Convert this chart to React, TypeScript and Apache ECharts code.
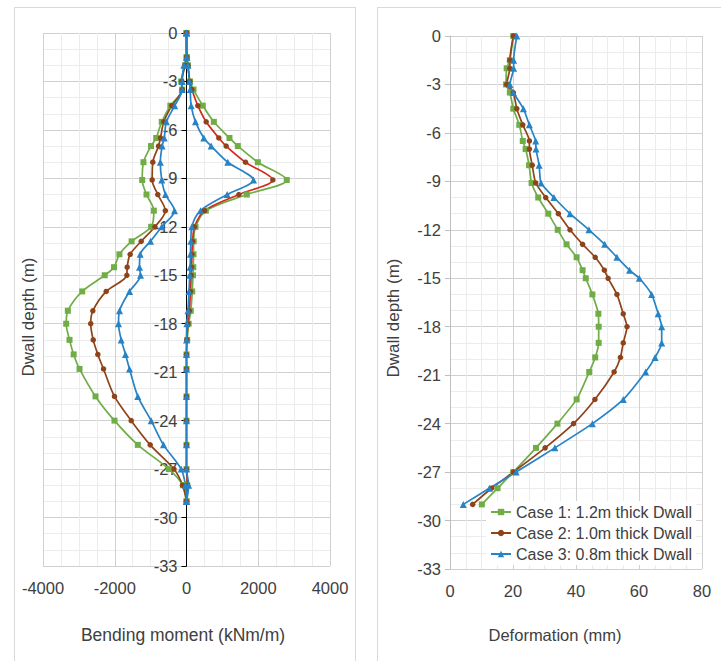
import React, { useEffect, useRef } from "react";
import * as echarts from "echarts";

// Depth (m) of each result point, shared by all series
const depth = [0, -1.5, -2, -3, -3.5, -4.5, -5.5, -6.5, -7, -8, -9.1, -10, -11, -12, -12.9, -13.7, -14.5, -15, -16, -17.2, -18, -19, -19.9, -20.8, -22.5, -24, -25.5, -27, -28, -29];

// Bending moment (kNm/m) envelopes
const case1MomentMin = [0, 0, -40, -150, -120, -450, -690, -845, -990, -1200, -1235, -1115, -910, -985, -1530, -1870, -2020, -2280, -2907, -3308, -3353, -3261, -3145, -2982, -2536, -2007, -1357, -493, -100, 0];
const case1MomentMax = [0, 10, 40, 100, 195, 455, 762, 1198, 1431, 1988, 2795, 1681, 540, 251, 200, 195, 190, 180, 160, 120, 60, 20, 0, 0, 0, 0, 0, 0, 20, 0];
const case2MomentMin = [0, 0, -40, -130, -120, -410, -633, -725, -780, -939, -957, -800, -590, -880, -1263, -1570, -1654, -1663, -2238, -2611, -2670, -2600, -2472, -2313, -2007, -1541, -1012, -350, -110, 0];
const case2MomentMax = [0, 10, 40, 90, 150, 316, 548, 901, 1106, 1644, 2406, 1459, 502, 223, 170, 150, 140, 130, 110, 80, 40, 10, 0, 0, 0, 0, 0, 0, 30, 0];
const case3MomentMin = [0, 0, -75, -120, -120, -330, -560, -620, -680, -730, -690, -585, -334, -690, -1003, -1290, -1310, -1282, -1589, -1867, -1895, -1820, -1700, -1589, -1357, -985, -641, -148, -30, 0];
const case3MomentMax = [0, 10, 40, 84, 103, 130, 251, 483, 688, 1152, 1867, 1134, 390, 149, 120, 110, 100, 90, 70, 40, 10, 0, 0, 0, 0, 0, 0, 0, 60, 0];

// Deformation (mm)
const case1Deform = [20.1, 19.0, 18.0, 17.8, 19.0, 20.1, 22.0, 23.1, 24.0, 25.1, 25.9, 28.0, 31.2, 34.2, 37.0, 40.2, 42.1, 43.1, 45.2, 47.1, 47.2, 47.2, 46.1, 44.2, 40.2, 34.1, 27.3, 20.1, 15.1, 10.1];
const case2Deform = [20.1, 19.0, 19.0, 18.0, 20.1, 21.2, 23.1, 25.2, 25.2, 26.1, 27.2, 30.4, 34.4, 38.1, 42.1, 46.1, 49.0, 50.2, 53.0, 55.0, 56.2, 55.0, 54.1, 52.1, 46.0, 39.2, 30.2, 20.1, 13.2, 7.2];
const case3Deform = [21.2, 20.2, 20.2, 19.0, 20.1, 23.3, 25.2, 27.2, 27.3, 28.3, 28.9, 33.0, 38.1, 44.1, 49.1, 53.0, 57.0, 60.1, 64.0, 66.1, 67.2, 67.2, 65.1, 62.1, 55.0, 45.2, 33.3, 21.0, 12.5, 4.2];

const caseNames = ["Case 1: 1.2m thick Dwall", "Case 2: 1.0m thick Dwall", "Case 3: 0.8m thick Dwall"];

const GREEN = "#70AD47";
const BROWN = "#8E4318";
const BLUE = "#2683C6";
const RED = "#D42A1E";
const FONT = "'Liberation Sans', Arial, sans-serif";
const LABEL = "#404040";

const pairs = (vals: number[]) => depth.map((d, i) => [vals[i], d]);

function line(name: string, vals: number[], gi: number, color: string, symbol: string, size: number, lineColor?: string, smooth = 0.3) {
  return {
    name,
    type: "line",
    xAxisIndex: gi,
    yAxisIndex: gi,
    data: pairs(vals),
    symbol,
    symbolSize: size,
    smooth,
    itemStyle: { color },
    lineStyle: { color: lineColor || color, width: 1.7 },
    emphasis: { disabled: true },
  };
}

export default function App() {
  const ref = useRef<HTMLDivElement>(null);
  useEffect(() => {
    if (!ref.current) return;
    const chart = echarts.init(ref.current, null, { renderer: "svg" });
    const plain = (v: number) => String(v);
    const xCommon = (min: number, max: number, interval: number, minorSplit: number) => ({
      type: "value",
      min,
      max,
      interval,
      position: "bottom",
      axisLine: { show: false, onZero: false },
      axisTick: { show: false },
      axisLabel: { fontSize: 16.5, color: LABEL, margin: 13, fontFamily: FONT, formatter: plain },
      splitLine: { show: true, lineStyle: { color: "#d0d0d0", width: 1 } },
      minorTick: { show: false, splitNumber: minorSplit },
      minorSplitLine: { show: true, lineStyle: { color: "#ececec", width: 1 } },
    });
    const yCommon = (axisColor: string, offset: number) => ({
      type: "value",
      min: -33,
      max: 0,
      interval: 3,
      position: "left",
      offset,
      axisLine: { show: true, onZero: false, lineStyle: { color: axisColor, width: 1 } },
      axisTick: { show: true, length: 5, lineStyle: { color: axisColor } },
      axisLabel: { fontSize: 16.5, color: LABEL, margin: 9, fontFamily: FONT, formatter: plain },
      splitLine: { show: true, lineStyle: { color: "#d0d0d0", width: 1 } },
      minorTick: { show: false, splitNumber: 3 },
      minorSplitLine: { show: true, lineStyle: { color: "#ececec", width: 1 } },
    });
    chart.setOption({
      animation: false,
      backgroundColor: "#ffffff",
      textStyle: { fontFamily: FONT },
      grid: [
        { left: 43, top: 33, width: 287, height: 533 },
        { left: 450, top: 36, width: 252, height: 533 },
      ],
      xAxis: [
        { gridIndex: 0, ...xCommon(-4000, 4000, 2000, 4) },
        { gridIndex: 1, ...xCommon(0, 80, 20, 4) },
      ],
      yAxis: [
        { gridIndex: 0, ...yCommon("#000000", -143.5) },
        { gridIndex: 1, ...yCommon("#bfbfbf", 0) },
      ],
      legend: {
        data: caseNames,
        orient: "vertical",
        left: 486,
        top: 501,
        itemWidth: 20,
        itemHeight: 8,
        itemGap: 5,
        padding: [3, 4],
        backgroundColor: "#ffffff",
        textStyle: { fontSize: 16, color: LABEL, fontFamily: FONT },
        selectedMode: false,
      },
      graphic: [
        { type: "rect", z: -10, silent: true, shape: { x: 14.5, y: 7.5, width: 341, height: 700 }, style: { fill: "none", stroke: "#d9d9d9", lineWidth: 1 } },
        { type: "rect", z: -10, silent: true, shape: { x: 377.5, y: 7.5, width: 400, height: 700 }, style: { fill: "none", stroke: "#d9d9d9", lineWidth: 1 } },
        { type: "text", x: 28, y: 317, rotation: Math.PI / 2, style: { text: "Dwall depth (m)", fontSize: 17, fill: LABEL, fontFamily: FONT, textAlign: "center", textVerticalAlign: "middle" } },
        { type: "text", x: 393, y: 318, rotation: Math.PI / 2, style: { text: "Dwall depth (m)", fontSize: 17, fill: LABEL, fontFamily: FONT, textAlign: "center", textVerticalAlign: "middle" } },
        { type: "text", x: 183, y: 635, style: { text: "Bending moment (kNm/m)", fontSize: 17.5, fill: LABEL, fontFamily: FONT, textAlign: "center", textVerticalAlign: "middle" } },
        { type: "text", x: 555, y: 635, style: { text: "Deformation (mm)", fontSize: 16.5, fill: LABEL, fontFamily: FONT, textAlign: "center", textVerticalAlign: "middle" } },
      ],
      series: [
        line("Case 1 min", case1MomentMin, 0, GREEN, "rect", 6),
        line("Case 1 max", case1MomentMax, 0, GREEN, "rect", 6),
        line("Case 2 min", case2MomentMin, 0, BROWN, "circle", 5.5),
        line("Case 2 max", case2MomentMax, 0, BROWN, "circle", 5.5, RED),
        line("Case 3 min", case3MomentMin, 0, BLUE, "triangle", 7),
        line("Case 3 max", case3MomentMax, 0, BLUE, "triangle", 7),
        line(caseNames[0], case1Deform, 1, GREEN, "rect", 6, undefined, 0.2),
        line(caseNames[1], case2Deform, 1, BROWN, "circle", 5.5, undefined, 0.2),
        line(caseNames[2], case3Deform, 1, BLUE, "triangle", 7, undefined, 0.2),
      ],
    });
    return () => chart.dispose();
  }, []);
  return <div ref={ref} style={{ position: "absolute", left: 0, top: 0, width: 721, height: 661 }} />;
}
